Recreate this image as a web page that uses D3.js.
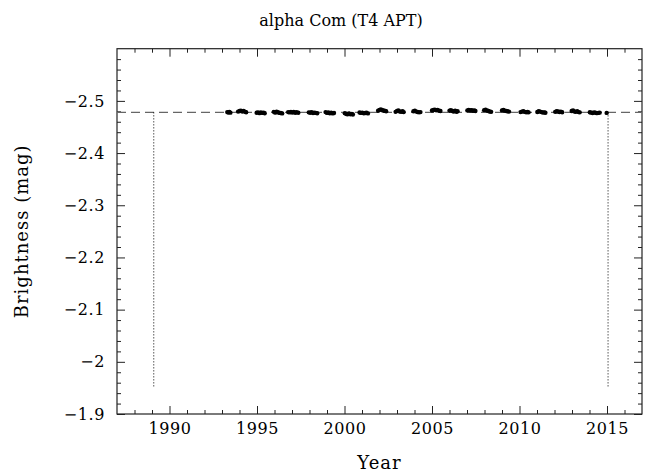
<!DOCTYPE html>
<html>
<head>
<meta charset="utf-8">
<script src="https://cdn.jsdelivr.net/npm/d3@7"></script>
<style>
  html, body { margin: 0; padding: 0; background: #fff; }
  svg { display: block; }
  text { font-family: "DejaVu Serif", serif; fill: #000; }
</style>
</head>
<body>
<div id="chart"></div>
<script>
const titleText = "alpha Com (T4 APT)";
const xLabel = "Year";
const yLabel = "Brightness (mag)";

const xMajorTicks = [1990, 1995, 2000, 2005, 2010, 2015];
const yMajorTicks = [-2.5, -2.4, -2.3, -2.2, -2.1, -2.0, -1.9];

const meanMag = -2.478;
const markerYears = [1989.1, 2015.06];
const markerBottom = -1.95;

const obsYear = [
  1993.30, 1993.36, 1993.42, 1993.48,
  1993.92, 1994.00, 1994.08, 1994.16, 1994.24, 1994.32, 1994.38,
  1994.98, 1995.06, 1995.14, 1995.22, 1995.30, 1995.38, 1995.44,
  1995.96, 1996.04, 1996.12, 1996.20, 1996.28, 1996.36, 1996.44,
  1996.78, 1996.86, 1996.94, 1997.02, 1997.10, 1997.18, 1997.26, 1997.36,
  1997.96, 1998.04, 1998.12, 1998.20, 1998.28, 1998.36, 1998.44,
  1998.92, 1999.00, 1999.08, 1999.16, 1999.24, 1999.32, 1999.40,
  2000.02, 2000.10, 2000.18, 2000.26, 2000.34, 2000.42, 2000.48,
  2000.86, 2000.94, 2001.02, 2001.10, 2001.18, 2001.26, 2001.34,
  2001.92, 2002.00, 2002.08, 2002.16, 2002.24, 2002.32, 2002.38,
  2002.92, 2003.00, 2003.08, 2003.16, 2003.24, 2003.32, 2003.38,
  2003.94, 2004.02, 2004.10, 2004.18, 2004.26, 2004.34,
  2005.00, 2005.08, 2005.16, 2005.24, 2005.32, 2005.40, 2005.48,
  2006.00, 2006.08, 2006.16, 2006.24, 2006.32, 2006.40, 2006.46,
  2007.02, 2007.10, 2007.18, 2007.26, 2007.34, 2007.42, 2007.48,
  2007.98, 2008.06, 2008.14, 2008.22, 2008.30, 2008.38,
  2009.00, 2009.08, 2009.16, 2009.24, 2009.32, 2009.40,
  2010.06, 2010.14, 2010.22, 2010.30, 2010.38, 2010.46, 2010.52,
  2011.02, 2011.10, 2011.18, 2011.26, 2011.34, 2011.42, 2011.48,
  2012.04, 2012.12, 2012.20, 2012.28, 2012.36, 2012.44,
  2012.98, 2013.06, 2013.14, 2013.22, 2013.30, 2013.38, 2013.44,
  2014.02, 2014.10, 2014.18, 2014.26, 2014.34, 2014.42, 2014.50, 2014.58,
  2014.98
];

const obsMag = [
  -2.4785, -2.4778, -2.4790, -2.4775,
  -2.4795, -2.4805, -2.4812, -2.4798, -2.4808, -2.4790, -2.4783,
  -2.4772, -2.4780, -2.4765, -2.4778, -2.4770, -2.4775, -2.4762,
  -2.4790, -2.4775, -2.4795, -2.4782, -2.4770, -2.4768, -2.4760,
  -2.4785, -2.4779, -2.4788, -2.4776, -2.4790, -2.4772, -2.4781, -2.4774,
  -2.4780, -2.4772, -2.4785, -2.4768, -2.4776, -2.4770, -2.4762,
  -2.4785, -2.4770, -2.4778, -2.4762, -2.4775, -2.4760, -2.4768,
  -2.4765, -2.4750, -2.4742, -2.4758, -2.4745, -2.4752, -2.4738,
  -2.4778, -2.4770, -2.4775, -2.4762, -2.4768, -2.4772, -2.4760,
  -2.4812, -2.4828, -2.4835, -2.4820, -2.4815, -2.4808, -2.4800,
  -2.4790, -2.4808, -2.4815, -2.4798, -2.4790, -2.4802, -2.4785,
  -2.4800, -2.4810, -2.4795, -2.4788, -2.4780, -2.4785,
  -2.4815, -2.4825, -2.4832, -2.4820, -2.4828, -2.4812, -2.4805,
  -2.4812, -2.4820, -2.4805, -2.4798, -2.4810, -2.4792, -2.4800,
  -2.4818, -2.4828, -2.4815, -2.4822, -2.4810, -2.4818, -2.4805,
  -2.4822, -2.4830, -2.4815, -2.4805, -2.4798, -2.4790,
  -2.4818, -2.4825, -2.4812, -2.4805, -2.4800, -2.4795,
  -2.4785, -2.4795, -2.4800, -2.4790, -2.4782, -2.4788, -2.4780,
  -2.4788, -2.4800, -2.4795, -2.4785, -2.4778, -2.4780, -2.4772,
  -2.4790, -2.4802, -2.4798, -2.4786, -2.4794, -2.4782,
  -2.4805, -2.4815, -2.4798, -2.4790, -2.4800, -2.4785, -2.4780,
  -2.4782, -2.4775, -2.4768, -2.4780, -2.4772, -2.4765, -2.4770, -2.4775,
  -2.4770
];

const W = 652, H = 476;
const margin = { left: 117, right: 10, top: 48.7, bottom: 62 };
const x0 = margin.left, x1 = W - margin.right;
const y0 = margin.top, y1 = H - margin.bottom;

const svg = d3.select("#chart").append("svg")
  .attr("width", W).attr("height", H);

const x = d3.scaleLinear().domain([1987, 2017]).range([x0, x1]);
const y = d3.scaleLinear().domain([-2.6, -1.9]).range([y0, y1]);

const xMinor = d3.range(1988, 2017).filter(v => v % 5 !== 0);
const yMinor = d3.range(-2.58, -1.9, 0.02).map(v => +v.toFixed(2))
  .filter(v => Math.abs(Math.round(v * 10) / 10 - v) > 1e-6);

const axisColor = "#222";
const fmtY = d3.format("");
const tickFont = 16;

function styleAxis(g) {
  g.select(".domain").remove();
  g.selectAll(".tick line").attr("stroke", axisColor);
}

svg.append("g").attr("transform", `translate(0,${y1})`)
  .call(d3.axisBottom(x).tickValues(xMajorTicks).tickSize(-8).tickPadding(9).tickFormat(d3.format("d")))
  .call(styleAxis)
  .call(g => g.selectAll("text").attr("font-size", tickFont).attr("font-family", "DejaVu Serif").attr("letter-spacing", 0.6));
svg.append("g").attr("transform", `translate(0,${y1})`)
  .call(d3.axisBottom(x).tickValues(xMinor).tickSize(-4).tickFormat(""))
  .call(styleAxis);
svg.append("g").attr("transform", `translate(0,${y0})`)
  .call(d3.axisTop(x).tickValues(xMajorTicks).tickSize(-8).tickFormat(""))
  .call(styleAxis);
svg.append("g").attr("transform", `translate(0,${y0})`)
  .call(d3.axisTop(x).tickValues(xMinor).tickSize(-4).tickFormat(""))
  .call(styleAxis);
svg.append("g").attr("transform", `translate(${x0},0)`)
  .call(d3.axisLeft(y).tickValues(yMajorTicks).tickSize(-8).tickPadding(12).tickFormat(fmtY))
  .call(styleAxis)
  .call(g => g.selectAll("text").attr("font-size", tickFont).attr("font-family", "DejaVu Serif").attr("letter-spacing", 0.6));
svg.append("g").attr("transform", `translate(${x0},0)`)
  .call(d3.axisLeft(y).tickValues(yMinor).tickSize(-4).tickFormat(""))
  .call(styleAxis);
svg.append("g").attr("transform", `translate(${x1},0)`)
  .call(d3.axisRight(y).tickValues(yMajorTicks).tickSize(-8).tickFormat(""))
  .call(styleAxis);
svg.append("g").attr("transform", `translate(${x1},0)`)
  .call(d3.axisRight(y).tickValues(yMinor).tickSize(-4).tickFormat(""))
  .call(styleAxis);

svg.append("rect")
  .attr("x", x0).attr("y", y0)
  .attr("width", x1 - x0).attr("height", y1 - y0)
  .attr("fill", "none").attr("stroke", axisColor).attr("stroke-width", 1.2);

svg.append("line")
  .attr("x1", x0).attr("x2", x1)
  .attr("y1", y(meanMag)).attr("y2", y(meanMag))
  .attr("stroke", "#666").attr("stroke-width", 1.2)
  .attr("stroke-dasharray", "9,5");

svg.selectAll("line.marker").data(markerYears).join("line")
  .attr("class", "marker")
  .attr("x1", d => x(d)).attr("x2", d => x(d))
  .attr("y1", y(meanMag)).attr("y2", y(markerBottom))
  .attr("stroke", "#000").attr("stroke-width", 1)
  .attr("stroke-dasharray", "1,2");

const pts = obsYear.map((t, i) => ({ t, m: obsMag[i] }));
svg.append("g").selectAll("circle").data(pts).join("circle")
  .attr("cx", d => x(d.t)).attr("cy", d => y(d.m))
  .attr("r", 2.2).attr("fill", "#000");

svg.append("text").attr("x", 341).attr("y", 26)
  .attr("text-anchor", "middle").attr("font-size", 16)
  .text(titleText);
svg.append("text").attr("x", (x0 + x1) / 2).attr("y", 469)
  .attr("text-anchor", "middle").attr("font-size", 18).attr("letter-spacing", 1)
  .text(xLabel);
svg.append("text")
  .attr("transform", `translate(28,${(y0 + y1) / 2}) rotate(-90)`)
  .attr("text-anchor", "middle").attr("font-size", 18).attr("letter-spacing", 1)
  .text(yLabel);
</script>
</body>
</html>
